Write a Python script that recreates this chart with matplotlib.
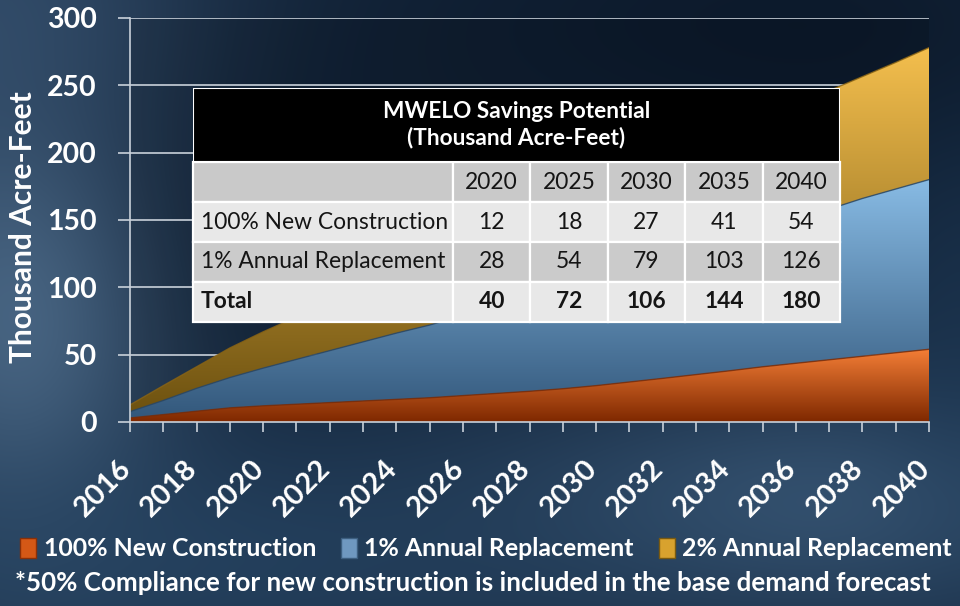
import numpy as np
import matplotlib
matplotlib.use("Agg")
import matplotlib.pyplot as plt
from matplotlib.colors import LinearSegmentedColormap, to_rgb
from matplotlib.patches import PathPatch, Patch, Rectangle
import matplotlib.transforms as mtransforms

# ---------------- data ----------------
years = list(range(2016, 2041))
new_construction = [3, 5.5, 8, 10.5, 12, 13.2, 14.4, 15.6, 16.8, 18, 19.6, 21.2, 22.8,
                    24.7, 27, 29.7, 32.4, 35.2, 38, 41, 43.6, 46.2, 48.8, 51.4, 54]
annual_1pct = [4.7, 10.5, 17, 22.5, 28, 33.3, 38.6, 43.9, 49.2, 54, 59.4, 64.8, 69.2,
               74.3, 79, 84.3, 88.6, 93.8, 98, 103, 107.4, 111.8, 117.2, 121.6, 126]
annual_2pct = [5, 11, 16, 22, 27, 31.5, 36, 40, 44, 48, 52, 56, 59, 63, 66, 69, 73,
               76, 79, 82, 85, 88, 90.5, 94, 98]
series_names = ["100% New Construction", "1% Annual Replacement", "2% Annual Replacement"]
x_tick_years = list(range(2016, 2041, 2))
y_ticks = [0, 50, 100, 150, 200, 250, 300]

table_title = "MWELO Savings Potential\n(Thousand Acre-Feet)"
table_years = ["2020", "2025", "2030", "2035", "2040"]
table_rows = ["100% New Construction", "1% Annual Replacement", "Total"]
table_new = [12, 18, 27, 41, 54]
table_repl = [28, 54, 79, 103, 126]
table_total = [40, 72, 106, 144, 180]

footnote = "*50% Compliance for new construction is included in the base demand forecast"

# ---------------- style ----------------
FONT = "Lato"
plt.rcParams["font.family"] = [FONT, "DejaVu Sans"]

W, H = 960, 606
fig = plt.figure(figsize=(W / 100, H / 100), dpi=100)

# background
yy, xx = np.mgrid[0:H, 0:W]
img = np.ones((H, W, 3)) * np.array(to_rgb("#15283f"))


def blob(img, cx, cy, sx, sy, color, strength):
    w = np.exp(-(((xx - cx) / sx) ** 2 + ((yy - cy) / sy) ** 2) / 2) * strength
    return img * (1 - w[..., None]) + np.array(to_rgb(color)) * w[..., None]


img = blob(img, 20, 300, 110, 190, "#51708f", 0.9)
img = blob(img, 0, 20, 170, 110, "#3b5878", 0.7)
img = blob(img, 820, 500, 260, 90, "#3e5e7e", 0.75)
img = blob(img, 200, 560, 300, 90, "#284766", 0.7)
img = blob(img, 960, 260, 60, 220, "#1f3b58", 0.5)
img = blob(img, 780, 30, 320, 110, "#0a1626", 0.8)
img = blob(img, 480, 170, 260, 140, "#0f1e31", 0.55)
img = np.clip(img, 0, 1)
bax = fig.add_axes([0, 0, 1, 1], zorder=-10)
bax.imshow(img, aspect="auto", extent=[0, 1, 0, 1], origin="upper")
bax.set_xlim(0, 1)
bax.set_ylim(0, 1)
bax.axis("off")

# main axes
L, R, T, B = 130, 929, 18, 422
ax = fig.add_axes([L / W, 1 - B / H, (R - L) / W, (B - T) / H])
ax.patch.set_facecolor("#000000")
ax.patch.set_alpha(0.12)

x = np.array(years, dtype=float)
s1 = np.array(new_construction, dtype=float)
s2 = s1 + np.array(annual_1pct, dtype=float)
s3 = s2 + np.array(annual_2pct, dtype=float)

grad = np.linspace(0, 1, 256).reshape(-1, 1)


def gradient_area(lower, upper, bottom_color, top_color, edge, z):
    poly = ax.fill_between(x, lower, upper, facecolor="none", edgecolor="none", zorder=z)
    path = poly.get_paths()[0]
    cmap = LinearSegmentedColormap.from_list("g", [bottom_color, top_color])
    im = ax.imshow(grad, extent=[x.min(), x.max(), lower.min(), upper.max()],
                   origin="lower", aspect="auto", cmap=cmap, zorder=z)
    pp = PathPatch(path, transform=ax.transData, facecolor="none", edgecolor="none")
    ax.add_patch(pp)
    im.set_clip_path(pp)
    ax.plot(x, upper, color=edge, lw=1.0, zorder=z + 0.1, alpha=0.8)


gradient_area(s2, s3, "#6e5210", "#f4bf4e", "#8a6414", 2)
gradient_area(s1, s2, "#33587c", "#88bbe4", "#2b4763", 3)
gradient_area(np.zeros_like(s1), s1, "#7e2800", "#f47e36", "#7a2c08", 4)

ax.set_xlim(2016, 2040)
ax.set_ylim(0, 300)

# grid / spines
ax.set_axisbelow(True)
ax.yaxis.grid(True, color="#c9d1da", lw=1.2)
ax.xaxis.grid(False)
for sp in ["top", "right"]:
    ax.spines[sp].set_visible(False)
for sp in ["left", "bottom"]:
    ax.spines[sp].set_color("#c9d1da")
    ax.spines[sp].set_linewidth(1.2)
    ax.spines[sp].set_zorder(6)

ax.set_yticks(y_ticks)
ax.set_yticklabels([str(v) for v in y_ticks])
ax.tick_params(axis="y", direction="out", length=9, width=1.2, color="#c9d1da",
               pad=15, labelsize=20.5, labelcolor="white")
for lab in ax.get_yticklabels():
    lab.set_fontweight("bold")

ax.set_xticks(years, minor=True)
ax.set_xticks(x_tick_years)
ax.set_xticklabels([str(v) for v in x_tick_years])
ax.tick_params(axis="x", which="both", direction="out", length=7, width=1.2,
               color="#c9d1da", pad=17, labelsize=21, labelcolor="white")
offset = mtransforms.ScaledTranslation(6 / 100, 0, fig.dpi_scale_trans)
for lab in ax.get_xticklabels():
    lab.set_rotation(45)
    lab.set_ha("right")
    lab.set_va("top")
    lab.set_fontweight("bold")
    lab.set_transform(lab.get_transform() + offset)

ax.set_ylabel("Thousand Acre-Feet", fontsize=21.5, fontweight="bold", color="white",
              va="center")
ax.yaxis.set_label_coords(-0.134, 0.483)

# ---------------- table ----------------
TL, TR, TT, TB = 193, 840, 88, 322
tax = fig.add_axes([TL / W, 1 - TB / H, (TR - TL) / W, (TB - TT) / H], zorder=10)
tax.set_xlim(0, 1)
tax.set_ylim(0, 1)
tax.axis("off")
body_h = 160 / (TB - TT)
tax.add_patch(Rectangle((0, body_h), 1, 1 - body_h, facecolor="black",
                        edgecolor="white", lw=1.5, transform=tax.transAxes))
tax.text(0.5, body_h + (1 - body_h) / 2, table_title, ha="center", va="center",
         color="white", fontsize=16.3, fontweight="bold", linespacing=1.25,
         transform=tax.transAxes)

cell_text = [[""] + table_years,
             [table_rows[0]] + [str(v) for v in table_new],
             [table_rows[1]] + [str(v) for v in table_repl],
             [table_rows[2]] + [str(v) for v in table_total]]
row_colors = ["#c9c9c9", "#e8e8e8", "#cbcbcb", "#e8e8e8"]
cell_colors = [[c] * 6 for c in row_colors]
first_w = 260 / (TR - TL)
col_w = (1 - first_w) / 5
tbl = tax.table(cellText=cell_text, cellColours=cell_colors,
                colWidths=[first_w] + [col_w] * 5, bbox=[0, 0, 1, body_h])
tbl.auto_set_font_size(False)
tbl.set_fontsize(16.4)
for (r, c), cell in tbl.get_celld().items():
    cell.set_edgecolor("white")
    cell.set_linewidth(1.6)
    t = cell.get_text()
    t.set_color("#151515")
    t.set_fontfamily(FONT)
    if c == 0:
        cell.PAD = 0.03
        t.set_ha("left")
    else:
        t.set_ha("center")
    if r == 3:
        t.set_fontweight("bold")

# ---------------- legend & footnote ----------------
handles = [Patch(facecolor="#d45816", edgecolor="#8a3008"),
           Patch(facecolor="#6f98c0", edgecolor="#3d5f80"),
           Patch(facecolor="#d8a22e", edgecolor="#7a5a10")]
fig.legend(handles, series_names, loc="center", bbox_to_anchor=(486 / W, 1 - 549 / H),
           ncol=3, frameon=False, labelcolor="white",
           prop={"family": FONT, "weight": "bold", "size": 17.9},
           handlelength=0.65, handleheight=0.9, handletextpad=0.3,
           columnspacing=1.0, borderaxespad=0)
fig.text(15 / W, 1 - 583 / H, footnote, ha="left", va="center", color="white",
         fontsize=18.75, fontweight="bold")

fig.savefig("out.png", dpi=100)
